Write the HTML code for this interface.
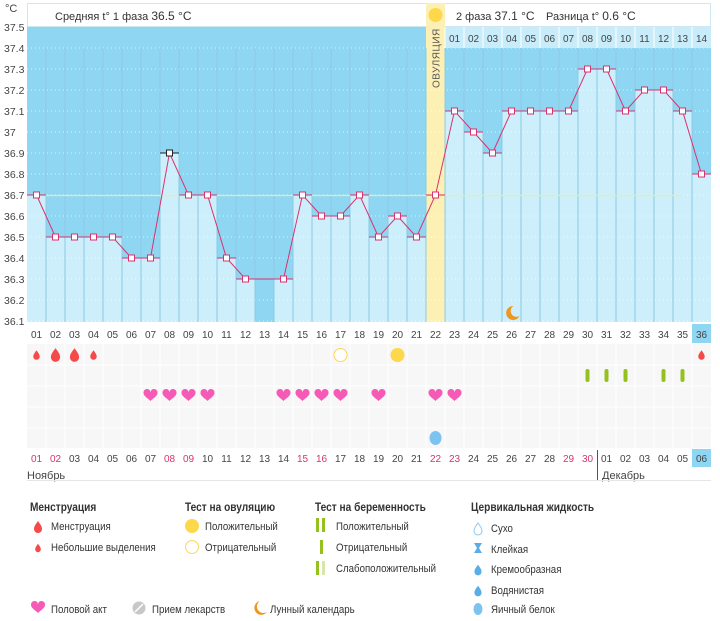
<!DOCTYPE html>
<html><head><meta charset="utf-8"><style>
body{margin:0;background:#fff;width:720px;height:616px;overflow:hidden;font-family:"Liberation Sans",sans-serif}
svg text{font-family:"Liberation Sans",sans-serif}
</style></head><body>
<svg id="s" width="720" height="616" xmlns="http://www.w3.org/2000/svg"></svg>
<script>
(function(){
var s=document.getElementById('s'),h='';
var X0=27,W=19;
function cx(i){return X0+(i-0.5)*W}
function Y(v){return 195-(v-36.7)*210}
var T=[36.7,36.5,36.5,36.5,36.5,36.4,36.4,36.9,36.7,36.7,36.4,36.3,null,36.3,36.7,36.6,36.6,36.7,36.5,36.6,36.5,36.7,37.1,37.0,36.9,37.1,37.1,37.1,37.1,37.3,37.3,37.1,37.2,37.2,37.1,36.8];
h+='<rect x="27" y="27" width="684" height="295" fill="#8fd6f2"/>';
h+='<rect x="27.5" y="3.5" width="683" height="23" fill="#fff" stroke="#cfe7f2"/>';
h+='<text x="55" y="20" font-size="11" fill="#333">Средняя t° 1 фаза <tspan font-size="12">36.5 °C</tspan></text>';
h+='<text x="456" y="20" font-size="11" fill="#333">2 фаза <tspan font-size="12">37.1 °C</tspan></text>';
h+='<text x="546" y="20" font-size="11" fill="#333">Разница t° <tspan font-size="12">0.6 °C</tspan></text>';
var i,tv,x,y,k;
for(i=1;i<=36;i++){tv=T[i-1];if(tv!==null&&i!=22)h+='<rect x="'+(X0+(i-1)*W)+'" y="'+Y(tv)+'" width="'+W+'" height="'+(322-Y(tv))+'" fill="#cdeefb"/>';}
h+='<rect x="'+(X0+21*W)+'" y="3" width="19" height="319" fill="#fdf0b5"/>';
h+='<circle cx="'+cx(22)+'" cy="15" r="7" fill="#fdd84a"/>';
h+='<text transform="translate('+(cx(22)+4)+',88) rotate(-90)" font-size="10" fill="#555" letter-spacing="0.5">ОВУЛЯЦИЯ</text>';
for(k=1;k<=14;k++){y=27+k*21;h+='<line x1="27" x2="711" y1="'+y+'" y2="'+y+'" stroke="#fff" stroke-opacity=".7" stroke-dasharray="1,3"/>';}
for(i=1;i<36;i++){x=X0+i*W;h+='<line x1="'+x+'" x2="'+x+'" y1="48" y2="322" stroke="#8ccbe6" stroke-width="1"/>';}
h+='<text x="5" y="12" font-size="11" fill="#444">°C</text>';
var yl=['37.5','37.4','37.3','37.2','37.1','37','36.9','36.8','36.7','36.6','36.5','36.4','36.3','36.2','36.1'];
for(k=0;k<15;k++)h+='<text x="4" y="'+(31+k*21)+'" font-size="10.5" fill="#444">'+yl[k]+'</text>';
for(i=23;i<=36;i++){x=X0+(i-1)*W;h+='<rect x="'+x+'" y="27" width="19" height="21" fill="#c8ecfa"/><line x1="'+x+'" x2="'+x+'" y1="27" y2="48" stroke="#fff"/>';h+='<text x="'+cx(i)+'" y="42" font-size="10" text-anchor="middle" fill="#444">'+('0'+(i-22)).slice(-2)+'</text>';}
h+='<line x1="27" x2="682" y1="195.5" y2="195.5" stroke="#f3ea8a" stroke-width="1.3"/>';
var pts=[];
for(i=1;i<=36;i++){tv=T[i-1];if(tv===null)continue;pts.push(cx(i)+','+Y(tv));h+='<line x1="'+(X0+(i-1)*W)+'" x2="'+(X0+i*W)+'" y1="'+Y(tv)+'" y2="'+Y(tv)+'" stroke="'+(i==8?'#222':'#d8336e')+'"/>';}
h+='<polyline points="'+pts.join(' ')+'" fill="none" stroke="#d8336e" stroke-width="1"/>';
for(i=1;i<=36;i++){tv=T[i-1];if(tv===null)continue;h+='<rect x="'+(cx(i)-3)+'" y="'+(Y(tv)-3)+'" width="6" height="6" fill="#fff" stroke="'+(i==8?'#222':'#d8336e')+'"/>';}
h+='<path d="M'+(cx(26)+2)+' 306 a7 7 0 1 0 6 10 a5.5 5.5 0 0 1 -6 -10z" fill="#f0961e"/>';
h+='<rect x="27" y="344" width="684" height="104" fill="#f7f7f7"/>';
for(var r=0;r<5;r++)h+='<line x1="27" x2="711" y1="'+(365+r*21)+'" y2="'+(365+r*21)+'" stroke="#fff"/>';
for(i=1;i<36;i++){x=X0+i*W;h+='<line x1="'+x+'" x2="'+x+'" y1="344" y2="448" stroke="#fff"/>';}
for(i=1;i<=36;i++){var lab=('0'+i).slice(-2);if(i==36)h+='<rect x="'+(X0+35*W)+'" y="324" width="19" height="19" fill="#8fd6f2"/>';h+='<text x="'+cx(i)+'" y="338" font-size="10" text-anchor="middle" fill="#444">'+lab+'</text>';}
var red=[1,2,8,9,15,16,22,23,29,30];
for(i=1;i<=36;i++){var d=i<=30?i:i-30;var lb=('0'+d).slice(-2);if(i==36)h+='<rect x="'+(X0+35*W)+'" y="449" width="19" height="18" fill="#8fd6f2"/>';h+='<text x="'+cx(i)+'" y="462" font-size="10" text-anchor="middle" fill="'+(red.indexOf(i)>=0?'#d8336e':'#444')+'">'+lb+'</text>';}
h+='<line x1="597.5" x2="597.5" y1="450" y2="480" stroke="#555"/>';
h+='<text x="27" y="479" font-size="11" fill="#444">Ноябрь</text><text x="602" y="479" font-size="11" fill="#444">Декабрь</text>';
h+='<line x1="27" x2="711" y1="480.5" y2="480.5" stroke="#e6e6e6"/>';
function drop(x,y,sc,c){return '<path transform="translate('+x+','+y+') scale('+sc+')" d="M0 -6 C2 -3 4 -1 4 2 A4 4 0 0 1 -4 2 C-4 -1 -2 -3 0 -6z" fill="'+c+'"/>';}
function heart(x,y,c){return '<path transform="translate('+x+','+y+')" d="M0 5 C-3 2 -7 0 -7 -3 A3.5 3.5 0 0 1 0 -4 A3.5 3.5 0 0 1 7 -3 C7 0 3 2 0 5z" fill="'+(c||'#f55bb6')+'"/>';}
h+=drop(cx(1),355,.8,'#f54a4a')+drop(cx(2),355,1.15,'#f54a4a')+drop(cx(3),355,1.15,'#f54a4a')+drop(cx(4),355,.8,'#f54a4a')+drop(cx(36),355,.8,'#f54a4a');
h+='<circle cx="'+cx(17)+'" cy="355" r="6.5" fill="#fff" stroke="#fbd85a"/><circle cx="'+cx(20)+'" cy="355" r="7" fill="#fdd84a"/>';
[30,31,32,34,35].forEach(function(j){h+='<rect x="'+(cx(j)-2)+'" y="369" width="4" height="13" rx="2" fill="#94c11e"/>';});
[7,8,9,10,14,15,16,17,19,22,23].forEach(function(j){h+=heart(cx(j),396);});
h+='<ellipse cx="'+cx(22)+'" cy="438" rx="6" ry="7" fill="#7dc3f0"/>';
function tx(x,y,str,b){return '<text transform="translate('+x+','+y+') scale(0.88,1)" font-size="'+(b?11.5:11)+'" font-weight="'+(b?'bold':'normal')+'" fill="#333">'+str+'</text>';}
h+=tx(30,511,'Менструация',1)+tx(185,511,'Тест на овуляцию',1)+tx(315,511,'Тест на беременность',1)+tx(471,511,'Цервикальная жидкость',1);
h+=drop(38,527,1,'#f54a4a')+tx(51,530,'Менструация')+drop(38,548,.7,'#f54a4a')+tx(51,551,'Небольшие выделения');
h+='<circle cx="192" cy="526" r="7" fill="#fdd84a"/><circle cx="192" cy="547" r="6.5" fill="#fff" stroke="#fbd85a"/>'+tx(205,530,'Положительный')+tx(205,551,'Отрицательный');
h+='<rect x="316" y="518" width="3" height="14" fill="#94c11e"/><rect x="322" y="518" width="3" height="14" fill="#94c11e"/>'+tx(336,530,'Положительный');
h+='<rect x="320" y="540" width="3" height="14" fill="#94c11e"/>'+tx(336,551,'Отрицательный');
h+='<rect x="316" y="561" width="3" height="14" fill="#94c11e"/><rect x="322" y="561" width="3" height="14" fill="#d6e8a8"/>'+tx(336,572,'Слабоположительный');
h+='<path transform="translate(478,529)" d="M0 -6 C2 -3 4 -1 4 2 A4 4 0 0 1 -4 2 C-4 -1 -2 -3 0 -6z" fill="#fff" stroke="#8cc8ee"/>'+tx(491,532,'Сухо');
h+='<path d="M474 543 h8 l-3 5 l3 5 h-8 l3 -5z" fill="#5aaee8"/>'+tx(491,553,'Клейкая');
h+=drop(478,570,.9,'#5aaee8')+tx(491,573,'Кремообразная');
h+=drop(478,591,.9,'#5aaee8')+tx(491,594,'Водянистая');
h+='<ellipse cx="478" cy="609" rx="4.5" ry="6" fill="#7dc3f0"/>'+tx(491,613,'Яичный белок');
h+=heart(38,608,'#f55bb6')+tx(51,613,'Половой акт');
h+='<circle cx="139" cy="608" r="6.5" fill="#c8c8c8"/><line x1="135" y1="612" x2="143" y2="604" stroke="#fff" stroke-width="1.5"/>'+tx(152,613,'Прием лекарств');
h+='<path d="M260 601 a7 7 0 1 0 7 11 a6 6 0 0 1 -7 -11z" fill="#f0961e"/>'+tx(270,613,'Лунный календарь');
s.innerHTML=h;
})();
</script>
</body></html>
